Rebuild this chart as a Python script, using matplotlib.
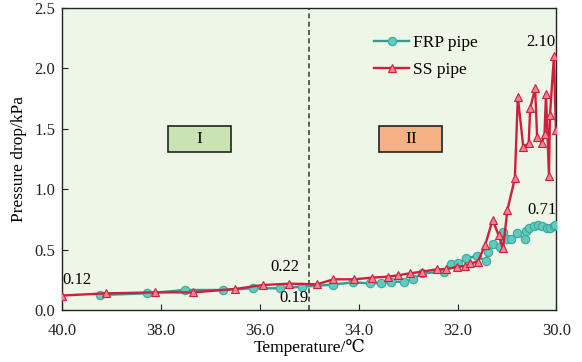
import matplotlib
matplotlib.use("Agg")
import matplotlib.pyplot as plt
from matplotlib.patches import Rectangle

# FRP pipe (temperature falls from 40 to 30 C)
frp_t = [39.23, 38.29, 37.51, 36.75, 36.14, 35.59, 35.15, 34.52, 34.11, 33.78,
         33.55, 33.34, 33.08, 32.90, 32.72, 32.28, 32.13, 31.98, 31.82, 31.61,
         31.42, 31.39, 31.28, 31.15, 31.07, 31.00, 30.91, 30.80, 30.63, 30.61,
         30.56, 30.46, 30.37, 30.29, 30.20, 30.12, 30.05, 30.02]
frp_p = [0.124, 0.138, 0.166, 0.166, 0.180, 0.180, 0.193, 0.210, 0.229, 0.221,
         0.221, 0.234, 0.234, 0.254, 0.304, 0.317, 0.378, 0.386, 0.428, 0.447,
         0.406, 0.483, 0.544, 0.524, 0.643, 0.588, 0.585, 0.635, 0.585, 0.654,
         0.681, 0.698, 0.704, 0.698, 0.681, 0.676, 0.698, 0.704]

# SS pipe
ss_t = [40.00, 39.10, 38.12, 37.34, 36.50, 35.94, 35.40, 34.84, 34.51, 34.09,
        33.73, 33.41, 33.21, 32.96, 32.72, 32.42, 32.23, 32.01, 31.84, 31.74,
        31.59, 31.44, 31.29, 31.17, 31.08, 30.99, 30.84, 30.78, 30.67, 30.56,
        30.53, 30.43, 30.39, 30.29, 30.24, 30.21, 30.15, 30.13, 30.05, 30.01]
ss_p = [0.12, 0.138, 0.146, 0.146, 0.174, 0.207, 0.218, 0.213, 0.254, 0.254,
        0.268, 0.276, 0.287, 0.304, 0.317, 0.337, 0.337, 0.358, 0.364, 0.386,
        0.400, 0.538, 0.745, 0.620, 0.510, 0.830, 1.090, 1.766, 1.350, 1.380,
        1.670, 1.835, 1.435, 1.380, 1.460, 1.790, 1.110, 1.610, 2.100, 1.490]

x_ticks = [40.0, 38.0, 36.0, 34.0, 32.0, 30.0]
y_ticks = [0.0, 0.5, 1.0, 1.5, 2.0, 2.5]

# stage boxes: label, (T_left, T_right), (P_bottom, P_top), fill
stages = [("I", (37.855, 36.58), (1.308, 1.523), "#c9e3b3"),
          ("II", (33.58, 32.31), (1.308, 1.523), "#f4b183")]

plt.rcParams["font.family"] = ["Liberation Serif", "DejaVu Serif"]

fig = plt.figure(figsize=(5.82, 3.62), dpi=100)
ax = fig.add_axes([0.1065, 0.1436, 0.8495, 0.8344])
ax.set_facecolor("#eef6e8")

ax.plot(frp_t, frp_p, color="#2e9e91", lw=1.7, marker="o", ms=6,
        mfc="#5fcabd", mec="#3aa89b", mew=0.8, label="FRP pipe", zorder=3)
ax.plot(ss_t, ss_p, color="#cf1f3c", lw=1.7, marker="^", ms=6,
        mfc="#ee8393", mec="#cf1f3c", mew=0.8, label="SS pipe", zorder=4)

ax.axvline(35.0, color="#444444", ls=(0, (3, 2)), lw=1.2, zorder=2)

ax.set_xlim(40, 30)
ax.set_ylim(0, 2.5)
ax.set_xticks(x_ticks)
ax.set_yticks(y_ticks)
ax.set_xticklabels([f"{v:.1f}" for v in x_ticks])
ax.set_yticklabels([f"{v:.1f}" for v in y_ticks])
ax.tick_params(direction="in", length=4, labelsize=12, colors="#222222")
ax.tick_params(axis="x", pad=9)
ax.tick_params(axis="y", pad=5)
for s in ax.spines.values():
    s.set_color("#222222")
    s.set_linewidth(1.0)

ax.set_xlabel("Temperature/\u2103", fontsize=12.5, labelpad=0)
ax.set_ylabel("Pressure drop/kPa", fontsize=12.5, labelpad=5)

for name, (t0, t1), (p0, p1), fc in stages:
    ax.add_patch(Rectangle((t0, p0), t1 - t0, p1 - p0, fc=fc, ec="#222222",
                           lw=1.2, zorder=2))
    ax.text((t0 + t1) / 2, (p0 + p1) / 2, name, ha="center", va="center",
            fontsize=12.5, zorder=3)

ax.text(39.99, 0.25, "0.12", fontsize=12, ha="left", va="center")
ax.text(35.49, 0.36, "0.22", fontsize=12, ha="center", va="center")
ax.text(35.31, 0.10, "0.19", fontsize=12, ha="center", va="center")
ax.text(30.32, 2.22, "2.10", fontsize=12, ha="center", va="center")
ax.text(30.30, 0.83, "0.71", fontsize=12, ha="center", va="center")

ax.legend(loc="upper left", bbox_to_anchor=(0.6, 0.963), frameon=False,
          fontsize=12.5, handlelength=2.0, handletextpad=0.25,
          labelspacing=0.65)

fig.savefig("out.png", dpi=100)
